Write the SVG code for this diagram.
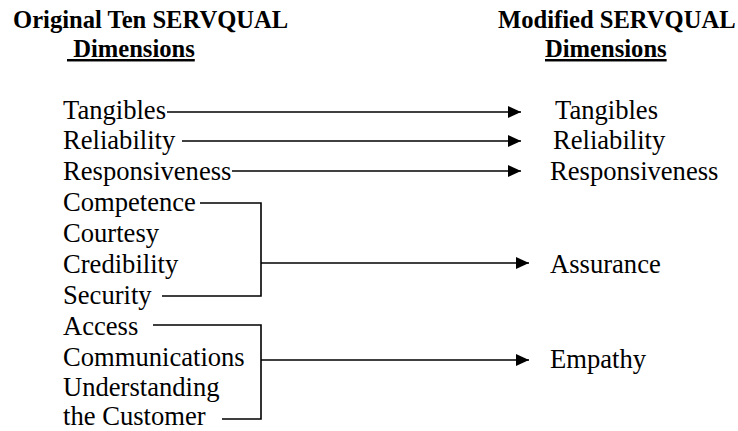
<svg xmlns="http://www.w3.org/2000/svg" width="738" height="431" viewBox="0 0 738 431">
<style>
.h{font-weight:bold;font-size:24.6px;fill:#000}
.t{font-size:26.6px;fill:#000}
.ln{stroke:#000;stroke-width:1.6;fill:none}
</style>
<defs>
<marker id="ah" markerWidth="14" markerHeight="12" refX="13" refY="6" orient="auto" markerUnits="userSpaceOnUse">
<path d="M0,0 L13,6 L0,12 Z" fill="#000"/>
</marker>
</defs>
<rect width="738" height="431" fill="#fff"/>
<g id="headers" font-family="Liberation Serif, Times New Roman, serif">
<text class="h" x="13" y="28">Original Ten SERVQUAL</text>
<text class="h" x="67" y="57" text-decoration="underline" xml:space="preserve"> Dimensions</text>
<text class="h" x="498" y="28">Modified SERVQUAL</text>
<text class="h" x="545" y="57" text-decoration="underline">Dimensions</text>
</g>
<g id="original" font-family="Liberation Serif, Times New Roman, serif">
<text class="t" x="63" y="119">Tangibles</text>
<text class="t" x="63" y="149">Reliability</text>
<text class="t" x="63" y="180">Responsiveness</text>
<text class="t" x="63" y="211">Competence</text>
<text class="t" x="63" y="242">Courtesy</text>
<text class="t" x="63" y="273">Credibility</text>
<text class="t" x="63" y="304">Security</text>
<text class="t" x="63" y="335">Access</text>
<text class="t" x="63" y="366">Communications</text>
<text class="t" x="63" y="396">Understanding</text>
<text class="t" x="63" y="425">the Customer</text>
</g>
<g id="modified" font-family="Liberation Serif, Times New Roman, serif">
<text class="t" x="555" y="119">Tangibles</text>
<text class="t" x="553" y="149">Reliability</text>
<text class="t" x="550" y="180">Responsiveness</text>
<text class="t" x="550" y="273">Assurance</text>
<text class="t" x="550" y="368">Empathy</text>
</g>
<g id="connectors">
<line class="ln" x1="167" y1="112" x2="521" y2="112" marker-end="url(#ah)"/>
<line class="ln" x1="182" y1="141" x2="521" y2="141" marker-end="url(#ah)"/>
<line class="ln" x1="232" y1="171" x2="521" y2="171" marker-end="url(#ah)"/>
<polyline class="ln" points="200,203 261,203 261,296 162,296"/>
<line class="ln" x1="261" y1="263" x2="529" y2="263" marker-end="url(#ah)"/>
<polyline class="ln" points="153,325 261,325 261,419 222,419"/>
<line class="ln" x1="261" y1="360" x2="529" y2="360" marker-end="url(#ah)"/>
</g>
</svg>
